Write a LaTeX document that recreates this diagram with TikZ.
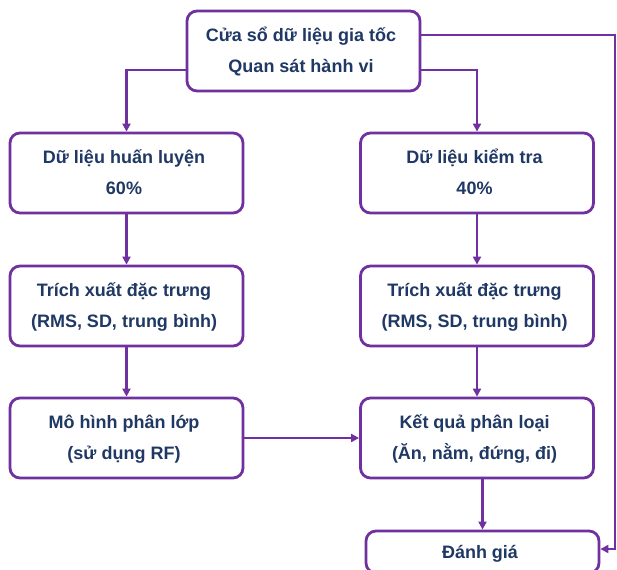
\documentclass[tikz,border=0pt]{standalone}
\usepackage{fontspec}
\setmainfont{Liberation Sans}
\usetikzlibrary{arrows.meta}
\definecolor{flowpurple}{HTML}{7030A0}
\definecolor{flownavy}{HTML}{1F3864}

\begin{document}
\begin{tikzpicture}[x=1pt, y=-1pt,
        block/.style={draw=flowpurple, line width=2.8pt, rounded corners=10pt, fill=white,
            minimum width=233pt, minimum height=80pt, inner sep=0pt, align=center,
            text=flownavy, font=\bfseries\fontsize{18}{22}\selectfont},
        flow/.style={draw=flowpurple, line width=2.4pt, ->},
        >={Triangle[length=8pt,width=8pt]}]
        \renewcommand{\arraystretch}{1.4} % Adjust line spacing in the tabular environment
        \useasboundingbox (0,0) rectangle (617,569);
        % Blocks
        \node[block] (window) at (303.5,51) {
            \begin{tabular}{c}
                Cửa sổ dữ liệu gia tốc \\
                Quan sát hành vi
            \end{tabular}
        };
        \node[block] (train) at (126.5,173) {
            \begin{tabular}{c}
                Dữ liệu huấn luyện \\
                60\%
            \end{tabular}
        };
        \node[block] (test) at (477,173) {
            \begin{tabular}{c}
                Dữ liệu kiểm tra \\
                40\%
            \end{tabular}
        };
        \node[block] (featl) at (126.5,306) {
            \begin{tabular}{c}
                Trích xuất đặc trưng \\
                (RMS, SD, trung bình)
            \end{tabular}
        };
        \node[block] (featr) at (477,306) {
            \begin{tabular}{c}
                Trích xuất đặc trưng \\
                (RMS, SD, trung bình)
            \end{tabular}
        };
        \node[block] (model) at (126.5,438) {
            \begin{tabular}{c}
                Mô hình phân lớp \\
                (sử dụng RF)
            \end{tabular}
        };
        \node[block] (result) at (477,438) {
            \begin{tabular}{c}
                Kết quả phân loại \\
                (Ăn, nằm, đứng, đi)
            \end{tabular}
        };
        \node[block, minimum height=42pt] (eval) at (482.5,552) {
            \begin{tabular}{c}
                Đánh giá
            \end{tabular}
        };
        \coordinate (corner) at (615,35);

        % Arrows
        \draw[flow] ([yshift=-19pt]window.west) -| (train);
        \draw[flow] ([yshift=-19pt]window.east) -| (test);
        \draw[flow] ([yshift=16pt]window.east) -- (corner) |- ([yshift=3pt]eval.east);
        \draw[flow] (train) -- (featl);
        \draw[flow] (featl) -- (model);
        \draw[flow] (model) -- (result);
        \draw[flow] (test) -- (featr);
        \draw[flow] (featr) -- (result);
        \draw[flow] (result.south -| eval.north) -- (eval.north);

    \end{tikzpicture}
\end{document}
